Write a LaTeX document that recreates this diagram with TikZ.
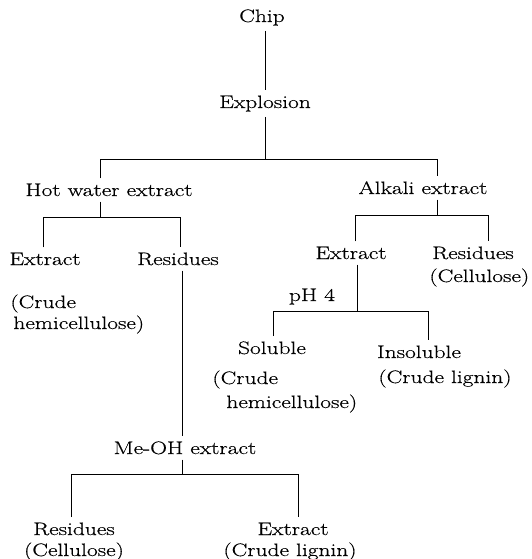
\documentclass[tikz,border=0pt]{standalone}
\usepackage{fontspec}
\setmainfont{Latin Modern Roman}[FakeStretch=1.3, FakeBold=0.5]

\begin{document}
\begin{tikzpicture}[x=1pt, y=-1pt, line width=0.8pt, every node/.style={anchor=base, inner xsep=2pt, inner ysep=5pt, font=\fontsize{18}{22}\selectfont}]

\useasboundingbox (0,0) rectangle (531,559);

% Nodes

\node (C) at (262,22) {Chip};
\node (E) at (265,108) {Explosion};
\node (H) at (109,196) {Hot water extract};
\node (A) at (423,194) {Alkali extract};
\node (HE) at (45,265) {Extract};
\node (HR) at (178,265) {Residues};
\node (AE) at (351,259) {Extract};
\node (AR) at (473,259) {Residues};
\node (S) at (272,354) {Soluble};
\node (I) at (419,358) {Insoluble};
\node (M) at (185,454) {Me-OH extract};
\node (MR) at (74,535) {Residues};
\node (ME) at (293,535) {Extract};

% Junctions

\coordinate (J1) at (265,159);
\coordinate (J1L) at (100,159);
\coordinate (J1R) at (437,159);
\coordinate (J2) at (100,217);
\coordinate (J2L) at (43,217);
\coordinate (J2R) at (180,217);
\coordinate (J3) at (437,215);
\coordinate (J3L) at (355,215);
\coordinate (J3R) at (488,215);
\coordinate (J4) at (357,311);
\coordinate (J4L) at (273,311);
\coordinate (J4R) at (428,311);
\coordinate (J5) at (182,474);
\coordinate (J5L) at (71,474);
\coordinate (J5R) at (298,474);

% Edges
\draw (C.south -| E) -- (E);
\draw (E) -- (J1);
\draw (H.north -| J1L) -- (J1L) -- (J1R) -- (A.north -| J1R);

\draw (H.south -| J2) -- (J2);
\draw (HE.north -| J2L) -- (J2L) -- (J2R) -- (HR.north -| J2R);
\draw (HR.south -| J5) -- (M.north -| J5);

\draw (M.south -| J5) -- (J5);
\draw (MR.north -| J5L) -- (J5L) -- (J5R) -- (ME.north -| J5R);

\draw (A.south -| J3) -- (J3);
\draw (AE.north -| J3L) -- (J3L) -- (J3R) -- (AR.north -| J3R);

\draw (AE.south -| J4) -- (J4);
\draw (S.north -| J4L) -- (J4L) -- (J4R) -- (I.north -| J4R);

% Labels
\node (P) at (312,301) {pH 4};

\node[anchor=base west] (HEc) at (8,308) {(Crude};
\node[anchor=base west] (HEh) at (11,329) {hemicellulose)};

\node[anchor=base west] (ARc) at (427,282) {(Cellulose)};

\node[anchor=base west] (Sc) at (210,384) {(Crude};
\node[anchor=base west] (Sh) at (224,408) {hemicellulose)};
\node[anchor=base west] (Il) at (376,383) {(Crude lignin)};

\node (MRc) at (74,556) {(Cellulose)};
\node (MEl) at (290,556) {(Crude lignin)};

\end{tikzpicture}
\end{document}
